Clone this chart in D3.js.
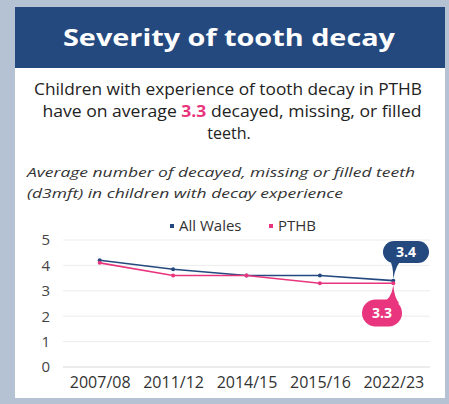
<!DOCTYPE html>
<html lang="en">
  <head>
    <meta charset="UTF-8" />
    <script src="https://d3js.org/d3.v7.min.js"></script>
    <title>Severity of tooth decay</title>
    <style>
      body { margin: 0; background: #b4c2d4; }
      svg { display: block; }
      text { font-family: "Open Sans", sans-serif; }
    </style>
  </head>
  <body>
    <svg id="chart" width="449" height="404"></svg>
    <script>
      // data
      const years = ["2007/08", "2011/12", "2014/15", "2015/16", "2022/23"];
      const allWales = [4.2, 3.85, 3.6, 3.6, 3.4];
      const pthb = [4.1, 3.6, 3.6, 3.3, 3.3];
      const yTicks = [0, 1, 2, 3, 4, 5];

      const blue = "#24497f";
      const pink = "#e8357d";

      const svg = d3.select("#chart");

      // card + header
      svg.append("rect").attr("x", 15).attr("y", 7).attr("width", 430).attr("height", 391).attr("fill", "#fff");
      svg.append("rect").attr("x", 15).attr("y", 7).attr("width", 430).attr("height", 61).attr("fill", "#24497f");

      function fit(sel, w) {
        sel.attr("textLength", w).attr("lengthAdjust", "spacingAndGlyphs");
        return sel;
      }

      fit(svg.append("text")
        .attr("x", 229).attr("y", 46)
        .attr("text-anchor", "middle")
        .attr("fill", "#fff")
        .style("font-size", "23px")
        .style("font-weight", "bold")
        .text("Severity of tooth decay"), 332);

      fit(svg.append("text")
        .attr("x", 228).attr("y", 95)
        .attr("text-anchor", "middle")
        .attr("fill", "#222")
        .style("font-size", "16px")
        .text("Children with experience of tooth decay in PTHB"), 388);

      const l2 = svg.append("text")
        .attr("x", 232).attr("y", 117)
        .attr("text-anchor", "middle")
        .attr("fill", "#222")
        .style("font-size", "16px");
      l2.append("tspan").text("have on average ");
      l2.append("tspan").attr("fill", pink).style("font-weight", "bold").text("3.3");
      l2.append("tspan").text(" decayed, missing, or filled");
      fit(l2, 379);

      svg.append("text")
        .attr("x", 229).attr("y", 139)
        .attr("text-anchor", "middle")
        .attr("fill", "#222")
        .style("font-size", "16px")
        .text("teeth.");

      fit(svg.append("text")
        .attr("x", 27).attr("y", 177)
        .attr("fill", "#333")
        .style("font-size", "13px")
        .style("font-style", "italic")
        .text("Average number of decayed, missing or filled teeth"), 388);

      fit(svg.append("text")
        .attr("x", 27).attr("y", 198)
        .attr("fill", "#333")
        .style("font-size", "13px")
        .style("font-style", "italic")
        .text("(d3mft) in children with decay experience"), 316);

      // legend
      const legend = [
        { name: "All Wales", color: blue, x: 172 },
        { name: "PTHB", color: pink, x: 271 },
      ];
      legend.forEach((d) => {
        svg.append("rect").attr("x", d.x - 2).attr("y", 224).attr("width", 4).attr("height", 4).attr("fill", d.color);
        svg.append("text").attr("x", d.x + 7).attr("y", 231)
          .attr("fill", "#333").style("font-size", "15px").text(d.name);
      });

      // scales
      const x = d3.scalePoint().domain(years).range([63, 430]).padding(0.5);
      const y = d3.scaleLinear().domain([0, 5]).range([367, 240]);

      // gridlines
      svg.append("g")
        .selectAll("line")
        .data(yTicks)
        .join("line")
        .attr("x1", 63).attr("x2", 430)
        .attr("y1", (d) => y(d)).attr("y2", (d) => y(d))
        .attr("stroke", (d) => (d === 0 ? "#d8d8d8" : "#ececec"))
        .attr("stroke-width", 1);

      // y axis
      const yAxis = svg.append("g")
        .attr("transform", "translate(50,0)")
        .call(d3.axisLeft(y).tickValues(yTicks).tickFormat(d3.format("d")).tickSize(0).tickPadding(0));
      yAxis.select(".domain").remove();
      yAxis.selectAll("text")
        .attr("fill", "#444")
        .style("font-size", "15px")
        .style("font-family", "Open Sans, sans-serif");

      // x axis
      const xAxis = svg.append("g")
        .attr("transform", "translate(0,372)")
        .call(d3.axisBottom(x).tickSize(0).tickPadding(0));
      xAxis.select(".domain").remove();
      xAxis.selectAll("text")
        .attr("fill", "#333")
        .attr("dy", "1em")
        .style("font-size", "16px")
        .style("font-family", "Open Sans, sans-serif");

      // lines
      const series = [
        { name: "All Wales", values: allWales, color: blue },
        { name: "PTHB", values: pthb, color: pink },
      ];
      const line = d3.line().x((d, i) => x(years[i])).y((d) => y(d));
      series.forEach((s) => {
        svg.append("path")
          .datum(s.values)
          .attr("d", line)
          .attr("fill", "none")
          .attr("stroke", s.color)
          .attr("stroke-width", 1.6);
        svg.append("g")
          .selectAll("circle")
          .data(s.values)
          .join("circle")
          .attr("cx", (d, i) => x(years[i]))
          .attr("cy", (d) => y(d))
          .attr("r", 2)
          .attr("fill", s.color);
      });

      // callouts for last values
      const last = years.length - 1;
      function callout(px, py, cx, cy, w, h, label, color, up) {
        const g = svg.append("g");
        g.append("rect")
          .attr("x", cx - w / 2).attr("y", cy - h / 2)
          .attr("width", w).attr("height", h)
          .attr("rx", h / 2).attr("fill", color);
        // tail
        const by = up ? cy + h / 2 - 4 : cy - h / 2 + 4;
        g.append("path")
          .attr("d", up
            ? `M${px - 4},${by} Q${px},${by + 6} ${px},${py} Q${px + 3},${by + 4} ${px + 10},${by} Z`
            : `M${px - 12},${by} Q${px - 2},${by - 4} ${px},${py} Q${px + 1},${by - 6} ${px + 6},${by} Z`)
          .attr("fill", color);
        g.append("text")
          .attr("x", cx).attr("y", cy + 5)
          .attr("text-anchor", "middle")
          .attr("fill", "#fff")
          .style("font-size", "14px")
          .style("font-weight", "bold")
          .text(label);
      }
      callout(x(years[last]), y(allWales[last]) - 2, 406, 252, 46, 22, allWales[last].toFixed(1), blue, true);
      callout(x(years[last]), y(pthb[last]) + 2, 382, 313, 40, 27, pthb[last].toFixed(1), pink, false);
    </script>
  </body>
</html>
